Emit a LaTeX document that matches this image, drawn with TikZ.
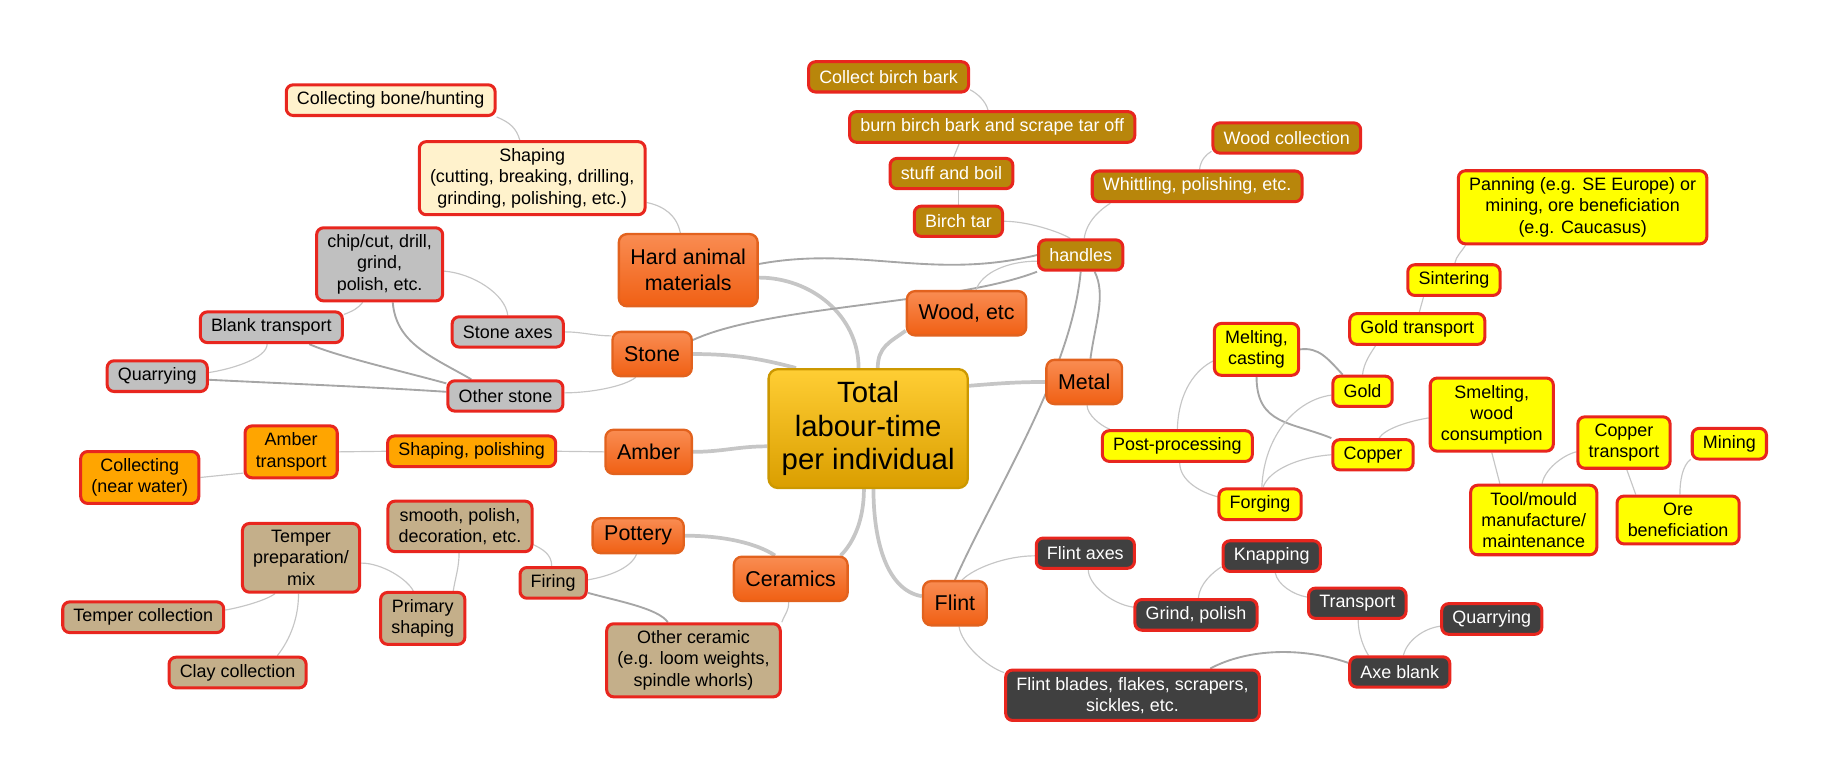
\documentclass[tikz,border=0pt]{standalone}
\usepackage{fontspec}
\setmainfont{Liberation Sans}
\usetikzlibrary{backgrounds}
\definecolor{rim}{RGB}{232,38,30}
\definecolor{cream}{RGB}{255,242,204}
\definecolor{stonegray}{RGB}{192,192,192}
\definecolor{amberfill}{RGB}{255,165,0}
\definecolor{clayfill}{RGB}{196,175,138}
\definecolor{woodfill}{RGB}{184,134,11}
\definecolor{metalfill}{RGB}{255,255,0}
\definecolor{flintfill}{RGB}{64,64,64}
\definecolor{topictop}{RGB}{249,140,82}
\definecolor{topicbot}{RGB}{240,96,20}
\definecolor{topicrim}{RGB}{226,98,30}
\definecolor{hubtop}{RGB}{255,206,52}
\definecolor{hubbot}{RGB}{218,158,0}
\definecolor{hubrim}{RGB}{204,152,0}
\begin{document}
\begin{tikzpicture}[x=0.5pt,y=-0.5pt,
  leaf/.style={draw=rim,line width=1.3pt,fill=#1,rounded corners=3pt,inner xsep=4.6pt,inner ysep=3pt,
    minimum height=13pt,align=center,font=\fontsize{7.7}{9.1}\selectfont},
  leafw/.style={leaf=#1,text=white},
  topic/.style={draw=topicrim,line width=1pt,top color=topictop,bottom color=topicbot,rounded corners=3.5pt,
    inner xsep=5pt,minimum height=19pt,align=center,font=\fontsize{9.2}{11.2}\selectfont},
  hub/.style={draw=hubrim,line width=1pt,top color=hubtop,bottom color=hubbot,rounded corners=4pt,
    minimum width=85.5pt,minimum height=51pt,align=center,font=\fontsize{12.6}{14.3}\selectfont},
  trunk/.style={draw=gray!45,line width=1.6pt},
  rel/.style={draw=gray!70,line width=0.8pt},
  twig/.style={draw=gray!45,line width=0.5pt}]
\useasboundingbox (0,0) rectangle (1568,671);

\node[hub] (root) at (745.5,368) {Total\\labour-time\\per individual};
\node[topic,minimum height=31pt] (hard) at (591,232) {Hard animal\\materials};
\node[topic] (wood) at (830,269) {Wood, etc};
\node[topic] (stone) at (560,304) {Stone};
\node[topic] (metal) at (931,328) {Metal};
\node[topic] (amber) at (557,388) {Amber};
\node[topic,minimum height=15pt] (pottery) at (548,460) {Pottery};
\node[topic] (ceram) at (679,497) {Ceramics};
\node[topic] (flint) at (820,518) {Flint};

% hard animal, stone, amber
\node[leaf=cream] (shapebone) at (457,153) {Shaping\\(cutting, breaking, drilling,\\grinding, polishing, etc.)};
\node[leaf=cream] (bone) at (335.5,86) {Collecting bone/hunting};
\node[leaf=stonegray] (chip) at (326,227) {chip/cut, drill,\\grind,\\polish, etc.};
\node[leaf=stonegray] (blank) at (233,281) {Blank transport};
\node[leaf=stonegray] (squarry) at (135,323) {Quarrying};
\node[leaf=stonegray] (saxes) at (436,285) {Stone axes};
\node[leaf=stonegray] (sother) at (434,340) {Other stone};
\node[leaf=amberfill] (apolish) at (405,387.5) {Shaping, polishing};
\node[leaf=amberfill] (atrans) at (250,388) {Amber\\transport};
\node[leaf=amberfill] (awater) at (120,410) {Collecting\\(near water)};

% ceramics
\node[leaf=clayfill] (other) at (595.5,567) {Other ceramic\\(e.g. loom weights,\\spindle whorls)};
\node[leaf=clayfill] (firing) at (475,500.5) {Firing};
\node[leaf=clayfill] (smooth) at (395,452) {smooth, polish,\\decoration, etc.};
\node[leaf=clayfill] (primary) at (363,531) {Primary\\shaping};
\node[leaf=clayfill] (temper) at (258.5,479) {Temper\\preparation/\\mix};
\node[leaf=clayfill] (tcoll) at (123,530) {Temper collection};
\node[leaf=clayfill] (clay) at (204,577.5) {Clay collection};

% wood
\node[leafw=woodfill] (bark) at (763,66) {Collect birch bark};
\node[leafw=woodfill] (burn) at (852,109) {burn birch bark and scrape tar off};
\node[leafw=woodfill] (boil) at (817,149) {stuff and boil};
\node[leafw=woodfill] (tar) at (823,190) {Birch tar};
\node[leafw=woodfill] (handles) at (928,219) {handles};
\node[leafw=woodfill] (whittle) at (1028,160) {Whittling, polishing, etc.};
\node[leafw=woodfill] (wcoll) at (1105,118.5) {Wood collection};

% metal
\node[leaf=metalfill] (panning) at (1359,178) {Panning (e.g. SE Europe) or\\mining, ore beneficiation\\(e.g. Caucasus)};
\node[leaf=metalfill] (sinter) at (1248.5,240.5) {Sintering};
\node[leaf=metalfill] (gtrans) at (1217,282.5) {Gold transport};
\node[leaf=metalfill] (melt) at (1079,300) {Melting,\\casting};
\node[leaf=metalfill] (gold) at (1170,336) {Gold};
\node[leaf=metalfill] (smelt) at (1281,356) {Smelting,\\wood\\consumption};
\node[leaf=metalfill] (copper) at (1179,390.5) {Copper};
\node[leaf=metalfill] (post) at (1011,383) {Post-processing};
\node[leaf=metalfill] (forge) at (1082,433) {Forging};
\node[leaf=metalfill] (ctrans) at (1394.5,380) {Copper\\transport};
\node[leaf=metalfill] (mining) at (1485,381) {Mining};
\node[leaf=metalfill] (toolm) at (1317,446.5) {Tool/mould\\manufacture/\\maintenance};
\node[leaf=metalfill] (ore) at (1441,446.5) {Ore\\beneficiation};

% flint
\node[leafw=flintfill] (faxes) at (932,475) {Flint axes};
\node[leafw=flintfill] (grind) at (1027,528) {Grind, polish};
\node[leafw=flintfill] (knap) at (1092,477.5) {Knapping};
\node[leafw=flintfill] (ftrans) at (1165.5,518) {Transport};
\node[leafw=flintfill] (fquarry) at (1281,531.5) {Quarrying};
\node[leafw=flintfill] (axeb) at (1202,577) {Axe blank};
\node[leafw=flintfill] (blades) at (972.5,597) {Flint blades, flakes, scrapers,\\sickles, etc.};

\begin{scope}[on background layer]
\draw[trunk] (root.99) .. controls +(0,-45) and +(45,0) .. (hard.-6);
\draw[trunk] (root.81) .. controls +(0,-18) and +(-14,10) .. (wood.196);
\draw[trunk] (root.140) .. controls +(-30,-8) and +(35,0) .. (stone.east);
\draw[trunk] (root.190) .. controls +(-25,0) and +(25,0) .. (amber.east);
\draw[trunk] (root.266) .. controls +(0,25) and +(12,-12) .. (ceram.25);
\draw[trunk] (root.275) .. controls +(0,45) and +(-30,-5) .. (flint.168);
\draw[trunk] (root.23) .. controls +(25,-2) and +(-25,0) .. (metal.west);
\draw[trunk] (pottery.east) .. controls +(35,0) and +(-15,-10) .. (ceram.124);

\draw[rel] (hard.5) .. controls +(86,-16) and +(-91,22) .. (handles.west);
\draw[rel] (stone.19) .. controls +(65,-30) and +(-72,28) .. (handles.south west);
\draw[rel] (handles.south) .. controls +(-8,86) and +(35,-78) .. (flint.north);
\draw[rel] (handles.-50) .. controls +(10,20) and +(4,-30) .. (metal.75);
\draw[rel] (melt.east) .. controls +(16,-2) and +(-13,-14) .. (gold.140);
\draw[rel] (melt.south) .. controls +(0,41.5) and +(-34,-14) .. (copper.north west);
\draw[rel] (firing.-16) .. controls +(25,7) and +(-8,-12) .. (other.124);
\draw[rel] (chip.-71) .. controls +(3,35) and +(-35,-20) .. (sother.154);
\draw[rel] (blank.-24) .. controls +(22,10) and +(-40,-11) .. (sother.168);
\draw[rel] (squarry.-4) .. controls +(60,3) and +(-60,-4) .. (sother.176);
\draw[rel] (blades.19) .. controls +(33,-17.5) and +(-39,-13.5) .. (axeb.170);

\draw[twig] (hard.102) .. controls +(-3,-15) and +(15,3) .. (shapebone.-12);
\draw[twig] (shapebone.108) .. controls +(-3,-10) and +(12,5) .. (bone.-9);
\draw[twig] (stone.156) .. controls +(-15,0) and +(15,0) .. (saxes.east);
\draw[twig] (stone.235) .. controls +(-10,8) and +(22,0) .. (sother.3);
\draw[twig] (saxes.north) .. controls +(-2,-18) and +(25,2) .. (chip.-6);
\draw[twig] (blank.10) .. controls +(8,-3) and +(-4,5) .. (chip.246);
\draw[twig] (squarry.4) .. controls +(20,-3) and +(0,12) .. (blank.256);
\draw[twig] (amber.west) -- (apolish.east);
\draw[twig] (apolish.west) -- (atrans.east);
\draw[twig] (atrans.204) -- (awater.east);

\draw[twig] (ceram.265) .. controls +(0,8) and +(3,-8) .. (other.north east);
\draw[twig] (pottery.265) .. controls +(-5,12) and +(18,-3) .. (firing.5);
\draw[twig] (firing.95) .. controls +(0,-10) and +(8,4) .. (smooth.-14);
\draw[twig] (smooth.268) .. controls +(0,12) and +(2,-12) .. (primary.42);
\draw[twig] (primary.109) .. controls +(-5,-10) and +(18,0) .. (temper.-5);
\draw[twig] (temper.234) .. controls +(-8,6) and +(12,-2) .. (tcoll.5);
\draw[twig] (temper.266) .. controls +(0,25) and +(8,-10) .. (clay.23);

\draw[twig] (wood.68) .. controls +(5,-15) and +(-25,0) .. (handles.188);
\draw[twig] (handles.122) .. controls +(-10,-6) and +(20,0) .. (tar.east);
\draw[twig] (tar.north) -- (tar.north |- boil.south);
\draw[twig] (boil.82) -- (burn.207);
\draw[twig] (burn.104) .. controls +(-2,-8) and +(6,3) .. (bark.-9);
\draw[twig] (handles.78) .. controls +(2,-15) and +(-8,5) .. (whittle.191);
\draw[twig] (whittle.82) .. controls +(1,-8) and +(-5,3) .. (wcoll.190);

\draw[twig] (metal.-83) .. controls +(0,8) and +(-8,-3) .. (post.166);
\draw[twig] (post.north) .. controls +(1,-33.5) and +(-14,7) .. (melt.195);
\draw[twig] (post.-82) .. controls +(0,15) and +(-15,-4) .. (forge.170);
\draw[twig] (forge.84) .. controls +(2,-45) and +(-30,4) .. (gold.187);
\draw[twig] (forge.80) .. controls +(5,-15) and +(-28,2) .. (copper.west);
\draw[twig] (gold.north) .. controls +(1,-10) and +(-4,6) .. (gtrans.202);
\draw[twig] (gtrans.83) -- (sinter.209);
\draw[twig] (sinter.87) .. controls +(1,-6) and +(-3,5) .. (panning.198);
\draw[twig] (copper.70) .. controls +(5,-8) and +(-18,3) .. (smelt.183);
\draw[twig] (smelt.south) -- (toolm.133);
\draw[twig] (toolm.77) .. controls +(2,-12) and +(-12,3) .. (ctrans.191);
\draw[twig] (ctrans.-84) -- (ore.149);
\draw[twig] (ore.86) .. controls +(0,-12) and +(-7,5) .. (mining.202);

\draw[twig] (flint.73) .. controls +(10,-10) and +(-25,0) .. (faxes.183);
\draw[twig] (faxes.-80) .. controls +(0,12) and +(-20,-3) .. (grind.173);
\draw[twig] (grind.82) .. controls +(1,-12) and +(-8,5) .. (knap.192);
\draw[twig] (knap.-78) .. controls +(2,10) and +(-12,-2) .. (ftrans.173);
\draw[twig] (ftrans.-87) .. controls +(0,12) and +(-4,-6) .. (axeb.152);
\draw[twig] (axeb.78) .. controls +(3,-12) and +(-15,2) .. (fquarry.188);
\draw[twig] (flint.-80) .. controls +(2,15) and +(-15,-5) .. (blades.170);
\end{scope}
\end{tikzpicture}
\end{document}
